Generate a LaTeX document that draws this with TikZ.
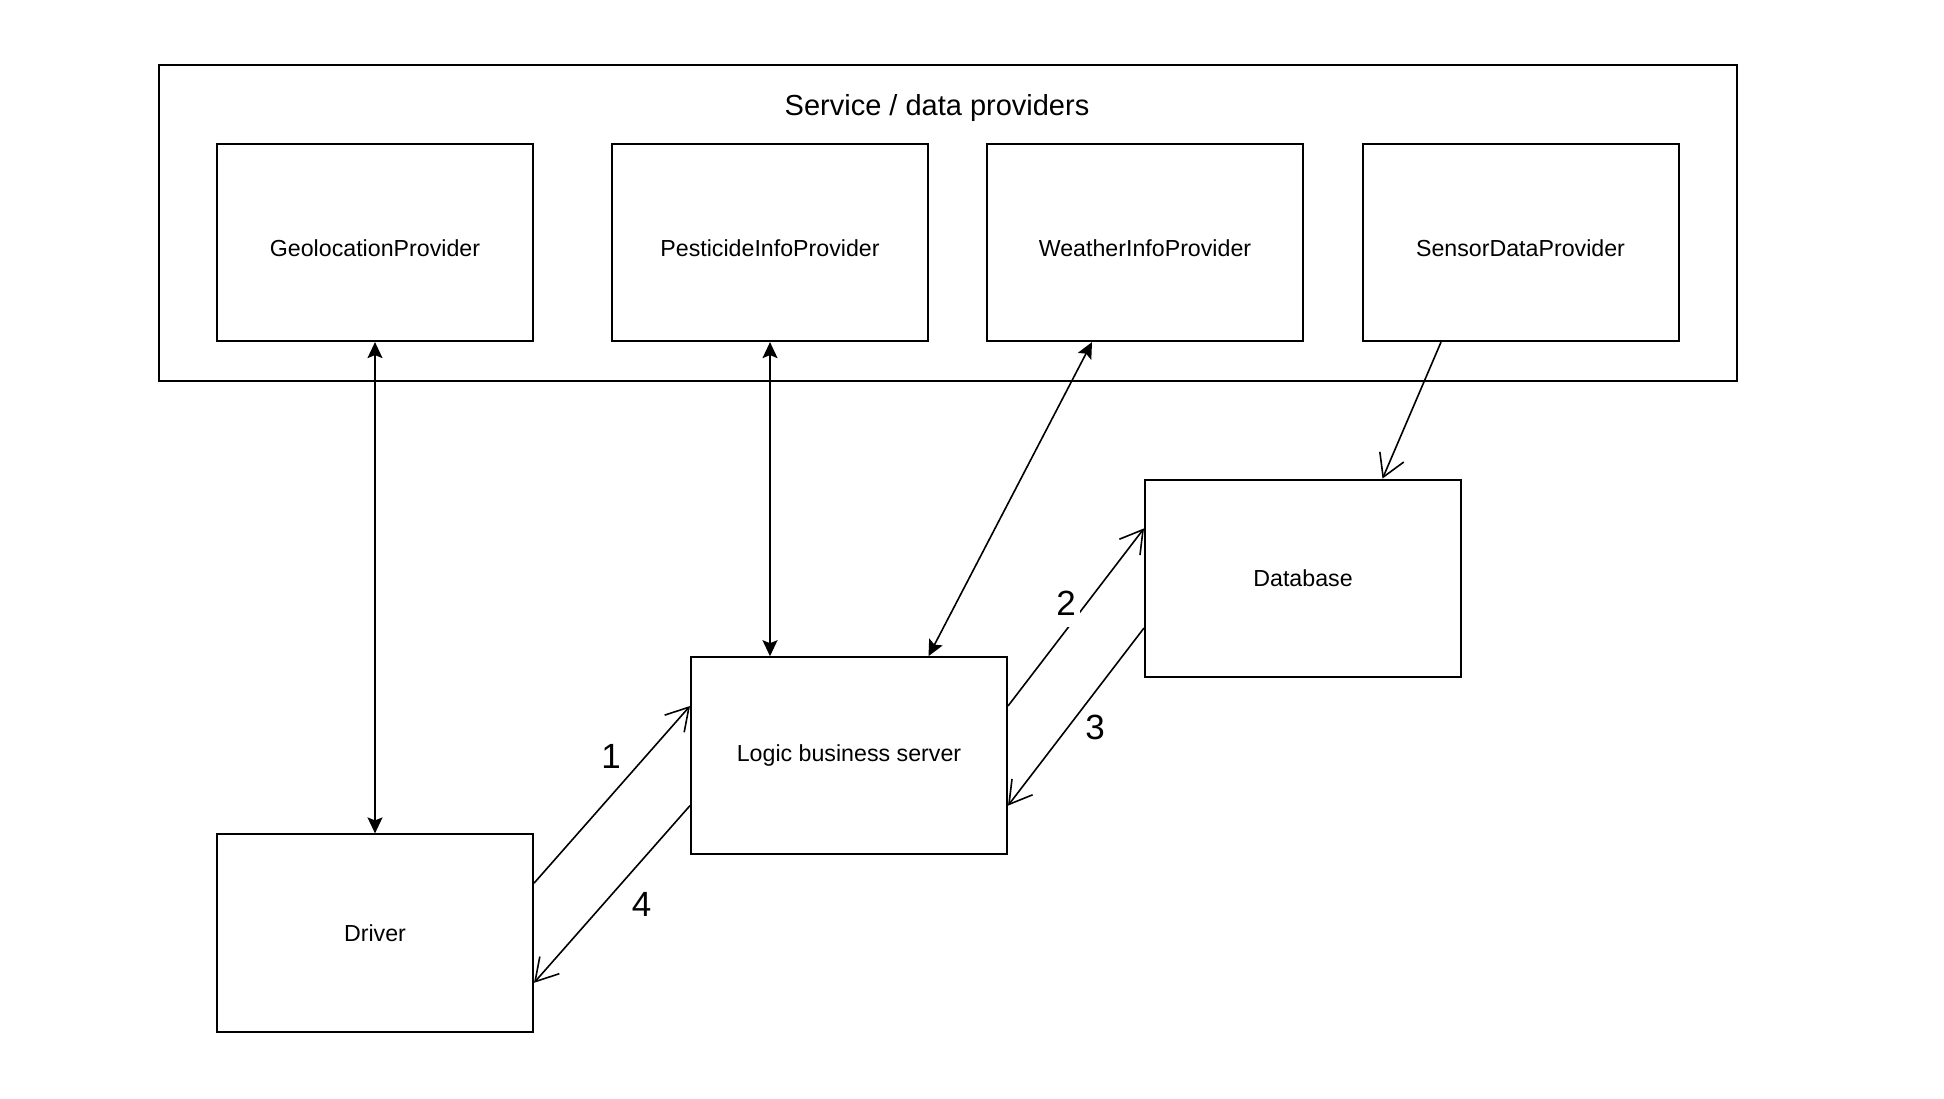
\documentclass[tikz,border=0pt]{standalone}
\usepackage{fontspec}
\setmainfont{Liberation Sans}
\usetikzlibrary{arrows.meta,calc}
\begin{document}
\begin{tikzpicture}[x=0.5pt,y=-0.5pt,
  box/.style={draw,line width=1pt,minimum width=158pt,minimum height=98.6pt,
    inner sep=0pt,font=\fontsize{11.6}{14}\selectfont},
  provider/.style={box,text height=13.5pt,text depth=0pt},
  link/.style={line width=0.8pt},
  bothsolid/.style={{Stealth[length=8pt,width=7.5pt,inset=1.5pt]}-{Stealth[length=8pt,width=7.5pt,inset=1.5pt]}},
  openend/.style={-{Straight Barb[length=11pt,width=13pt]}},
  num/.style={font=\fontsize{17.5}{20}\selectfont,anchor=base,inner sep=1pt}]
\useasboundingbox (0,0) rectangle (1944,1098);

% provider group
\node[draw,line width=1pt,minimum width=789.2pt,minimum height=157.8pt,inner sep=0pt]
  (group) at (947.9,223.2) {};
\node[anchor=base,font=\fontsize{14.5}{17}\selectfont] (title) at (937,115) {Service / data providers};

\node[provider] (geo)     at (375,242.5)   {GeolocationProvider};
\node[provider] (pest)    at (770,242.5)   {PesticideInfoProvider};
\node[provider] (weather) at (1145,242.5)  {WeatherInfoProvider};
\node[provider] (sensor)  at (1520.5,242.5){SensorDataProvider};

\node[box] (db)     at (1303,578.2) {Database};
\node[box] (logic)  at (849,755.8)  {Logic business server};
\node[box] (driver) at (375,933)    {Driver};

% provider links
\draw[link,bothsolid] (geo.south) -- (driver.north);
\draw[link,bothsolid] (pest.south) -- (pest.south |- logic.north);
\draw[link,bothsolid] ($(weather.south west)!0.3333!(weather.south east)$)
  -- ($(logic.north west)!0.75!(logic.north east)$);
\draw[link,openend] ($(sensor.south west)!0.25!(sensor.south east)$)
  -- ($(db.north west)!0.75!(db.north east)$);

% numbered request flow
\draw[link,openend] ($(driver.north east)!0.25!(driver.south east)$)
  -- ($(logic.north west)!0.25!(logic.south west)$);
\draw[link,openend] ($(logic.north east)!0.25!(logic.south east)$)
  -- ($(db.north west)!0.25!(db.south west)$);
\draw[link,openend] ($(db.north west)!0.75!(db.south west)$)
  -- ($(logic.north east)!0.75!(logic.south east)$);
\draw[link,openend] ($(logic.north west)!0.75!(logic.south west)$)
  -- ($(driver.north east)!0.75!(driver.south east)$);

\node[num] (n1) at (611,768) {1};
\node[num,fill=white,text depth=4pt,inner sep=2pt] (n2) at (1066,615) {2};
\node[num] (n3) at (1095,739.6) {3};
\node[num] (n4) at (641.7,916.7) {4};
\end{tikzpicture}
\end{document}
